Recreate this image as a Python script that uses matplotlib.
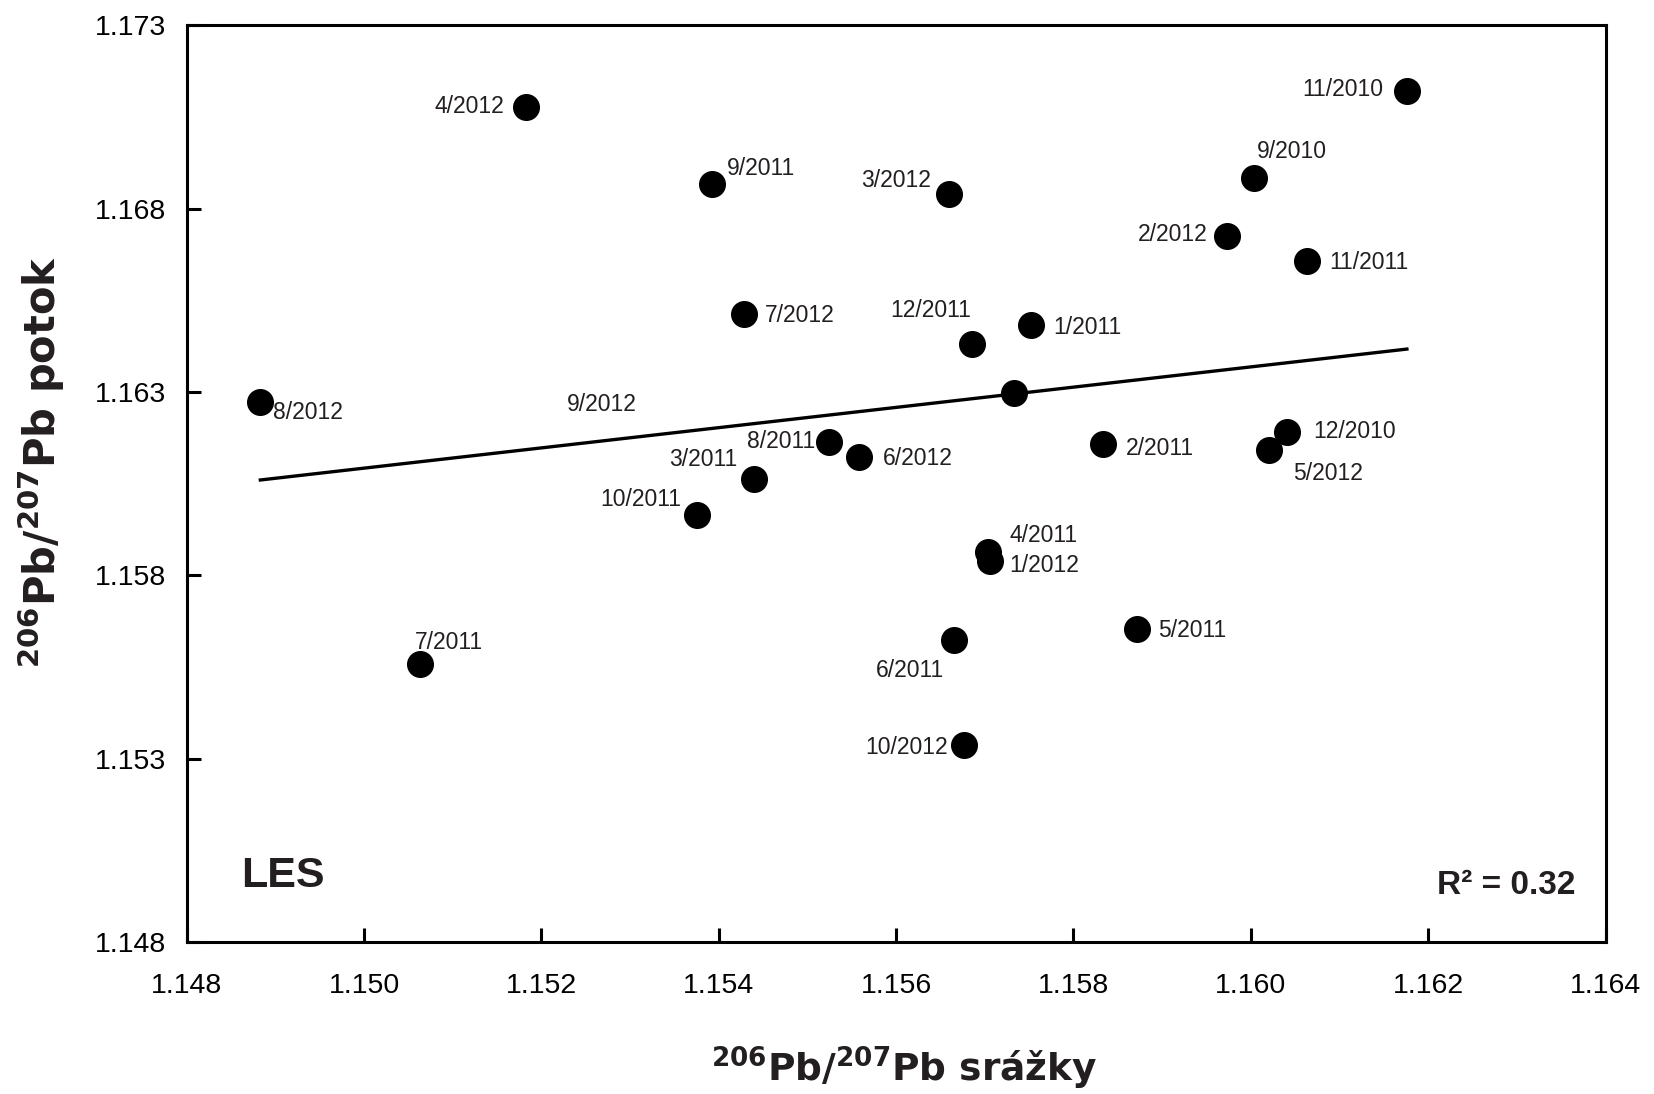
import numpy as np
import matplotlib.pyplot as plt
from matplotlib.ticker import MultipleLocator

plt.rcParams['font.family'] = ['Liberation Sans', 'DejaVu Sans']
plt.rcParams['mathtext.fontset'] = 'dejavusans'
plt.rcParams['mathtext.default'] = 'bf'

labels = ['4/2012', '11/2010', '9/2011', '3/2012', '9/2010', '2/2012', '11/2011',
          '7/2012', '1/2011', '12/2011', '8/2012', '9/2012', '12/2010', '5/2012',
          '2/2011', '8/2011', '6/2012', '3/2011', '10/2011', '4/2011', '1/2012',
          '5/2011', '6/2011', '7/2011', '10/2012']
srazky = [1.15183, 1.16176, 1.15392, 1.15660, 1.16004, 1.15973, 1.16063,
          1.15428, 1.15752, 1.15686, 1.14883, 1.15733, 1.16041, 1.16021,
          1.15833, 1.15524, 1.15558, 1.15440, 1.15375, 1.15704, 1.15706,
          1.15872, 1.15665, 1.15063, 1.15676]
potok = [1.17078, 1.17122, 1.16868, 1.16840, 1.16883, 1.16725, 1.16658,
         1.16512, 1.16483, 1.16431, 1.16273, 1.16296, 1.16192, 1.16141,
         1.16158, 1.16164, 1.16123, 1.16063, 1.15965, 1.15864, 1.15839,
         1.15654, 1.15623, 1.15559, 1.15338]

trend_x = [1.14883, 1.16176]
trend_y = [1.16060, 1.16417]
r2 = 0.32

x_ticks = [1.148, 1.150, 1.152, 1.154, 1.156, 1.158, 1.160, 1.162, 1.164]
y_ticks = [1.148, 1.153, 1.158, 1.163, 1.168, 1.173]

# umisteni popisku (body, zarovnani)
offsets = {
    '4/2012': (-16, 0, 'right'), '11/2010': (-17, 1, 'right'), '9/2011': (11, 11, 'left'),
    '3/2012': (-13, 10, 'right'), '9/2010': (2, 19, 'left'), '2/2012': (-14, 1, 'right'),
    '11/2011': (16, -1, 'left'), '7/2012': (15, -1, 'left'), '12/2011': (-1, 24, 'right'),
    '1/2011': (16, -2, 'left'), '8/2012': (9, -8, 'left'), '9/2012': (-272, -8, 'right'),
    '12/2010': (19, 0, 'left'), '5/2012': (17, -17, 'left'), '2/2011': (17, -3, 'left'),
    '8/2011': (-10, 0, 'right'), '6/2012': (17, -1, 'left'), '3/2011': (-12, 14, 'right'),
    '10/2011': (-11, 11, 'right'), '4/2011': (15, 12, 'left'), '1/2012': (14, -3, 'left'),
    '5/2011': (15, -1, 'left'), '6/2011': (-7, -22, 'right'), '7/2011': (-4, 15, 'left'),
    '10/2012': (-11, -2, 'right'),
}

fig = plt.figure(figsize=(16.54, 10.94), dpi=100)
ax = fig.add_axes([0.1129, 0.1389, 0.8578, 0.838])

ax.plot(trend_x, trend_y, color='black', linewidth=2.4, zorder=2)
ax.scatter(srazky, potok, s=340, color='black', zorder=3)

for lab, x, y in zip(labels, srazky, potok):
    dx, dy, ha = offsets[lab]
    ax.annotate(lab, (x, y), xytext=(dx, dy), textcoords='offset points',
                ha=ha, va='center', fontsize=16.5, color='#231f20')

ax.set_xlim(1.148, 1.164)
ax.set_ylim(1.148, 1.173)
ax.set_xticks(x_ticks)
ax.set_yticks(y_ticks)
ax.xaxis.set_major_formatter(plt.FormatStrFormatter('%.3f'))
ax.yaxis.set_major_formatter(plt.FormatStrFormatter('%.3f'))
ax.tick_params(direction='in', length=10, width=2.2, labelsize=20.5,
               colors='black')
ax.tick_params(axis='x', pad=22)
ax.tick_params(axis='y', pad=15)
for sp in ax.spines.values():
    sp.set_linewidth(2.2)

ax.text(0.038, 0.072, 'LES', transform=ax.transAxes, fontsize=31,
        fontweight='bold', color='#231f20', ha='left', va='center')
ax.text(0.979, 0.062, 'R\u00b2 = %.2f' % r2, transform=ax.transAxes,
        fontsize=24, fontweight='bold', color='#231f20', ha='right', va='center')

fig.text(0.547, 0.023, r'$^{206}$Pb/$^{207}$Pb srážky', fontsize=27,
         family='DejaVu Sans', fontweight='bold', color='#231f20',
         ha='center', va='center')
fig.text(0.025, 0.578, r'$^{206}$Pb/$^{207}$Pb potok', fontsize=30,
         family='DejaVu Sans', fontweight='bold', color='#231f20',
         ha='center', va='center', rotation=90)

fig.savefig('out.png', dpi=100)
